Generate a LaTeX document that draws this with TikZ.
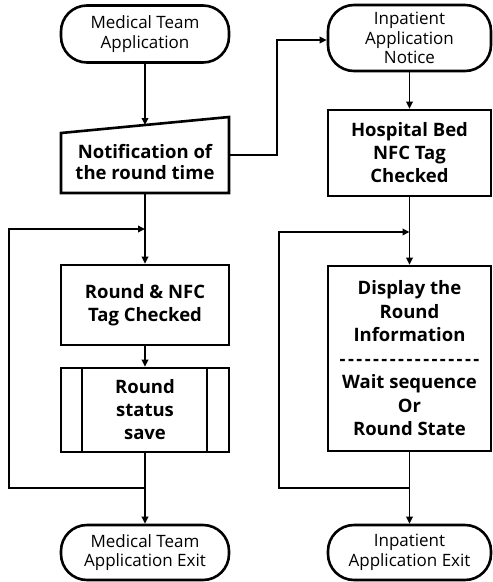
\documentclass[tikz,border=0pt]{standalone}
\usepackage{fontspec}
\setmainfont{Open Sans}
\usetikzlibrary{arrows.meta}
\newcommand\hy{\mbox{-}\kern2.4pt}
\begin{document}
\begin{tikzpicture}[x=1pt,y=-1pt,
  shp/.style={draw, line width=2.6pt, align=center, inner sep=0pt},
  term/.style={shp, rounded corners=26pt, font=\fontsize{17}{19.5}\selectfont},
  proc/.style={shp, font=\fontsize{18.5}{23}\selectfont\bfseries},
  plain/.style={align=center, inner sep=0pt, font=\fontsize{18.5}{21}\selectfont\bfseries},
  con/.style={line width=1.8pt},
  arr/.style={con, -{Triangle[width=6.5pt,length=7pt]}}]
\useasboundingbox (0,0) rectangle (493,582);

% left column
\node[term, minimum width=168pt, minimum height=57pt] (mtapp) at (145,34) {Medical Team\\Application};
\node[plain, minimum width=168pt, minimum height=68pt] (notif) at (145,162) {Notification of\\the round time};
\draw[line width=2.6pt, line join=miter] (61,193) -- (61,133) -- (229,117) -- (229,193) -- cycle;
\node[proc, minimum width=168pt, minimum height=80pt] (rnfc) at (145,305) {Round \& NFC\\Tag Checked};
\node[proc, minimum width=168pt, minimum height=84pt] (save) at (145,410) {Round\\status\\save};
\draw[line width=2.6pt] (82,368) -- (82,452) (207,368) -- (207,452);
\node[term, minimum width=168pt, minimum height=55pt] (mtexit) at (145,552.5) {Medical Team\\Application Exit};

% right column
\node[term, minimum width=163pt, minimum height=66pt] (inapp) at (409.5,38) {Inpatient\\Application\\Notice};
\node[proc, minimum width=163pt, minimum height=86pt] (bed) at (409.5,153) {Hospital Bed\\NFC Tag\\Checked};
\node[proc, minimum width=163pt, minimum height=185pt, font=\fontsize{18.5}{23.5}\selectfont\bfseries] (disp) at (409.5,358.5) {Display the\\Round\\Information\\\hy\hy\hy\hy\hy\hy\hy\hy\hy\hy\hy\hy\hy\hy\hy\hy\mbox{-}\\Wait sequence\\Or\\Round State};
\node[term, minimum width=163pt, minimum height=55pt] (inexit) at (409.5,552.5) {Inpatient\\Application Exit};

% helper coordinates
\coordinate (ntop) at (145,125);
\coordinate (nbot) at (145,193);
\coordinate (nright) at (229,155);
\coordinate (j1) at (145,229);
\coordinate (j2) at (145,488);
\coordinate (j3) at (409.5,232);
\coordinate (j4) at (409.5,488);

% connectors left
\draw[arr] (mtapp.south) -- (ntop);
\draw[arr] (nbot) -- (rnfc.north);
\draw[arr] (rnfc.south) -- (save.north);
\draw[arr] (save.south) -- (mtexit.north);
\draw[arr] (j2) -- (9,488) -- (9,229) -- (j1);
\draw[arr] (nright) -- (277,155) -- (277,40) -- (inapp.west |- 0,40);

% connectors right
\draw[arr] (inapp.south) -- (bed.north);
\draw[arr] (bed.south) -- (disp.north);
\draw[arr] (disp.south) -- (inexit.north);
\draw[arr] (j4) -- (279,488) -- (279,232) -- (j3);
\end{tikzpicture}
\end{document}
